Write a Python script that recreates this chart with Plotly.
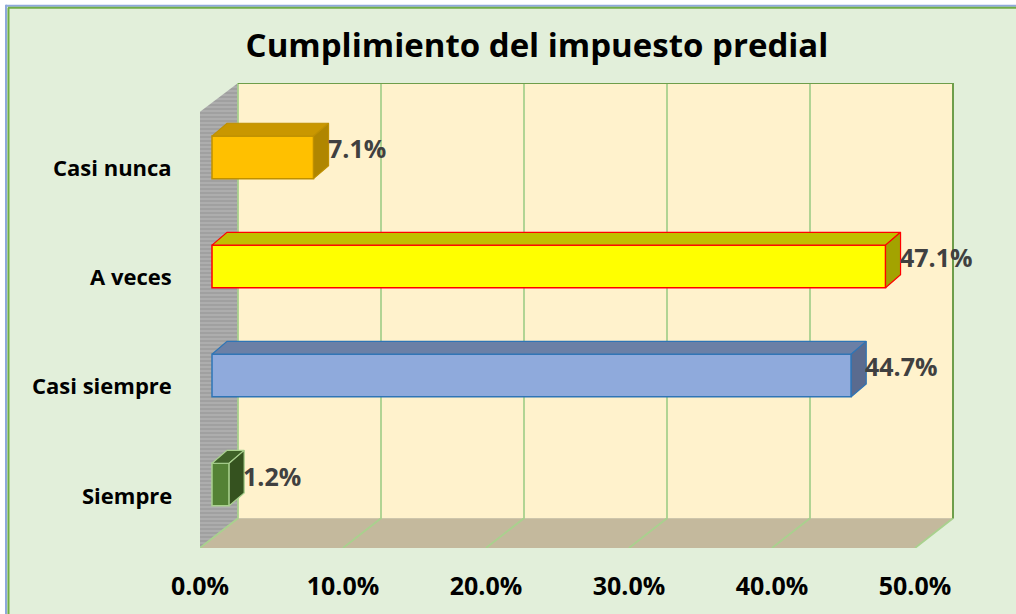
import plotly.graph_objects as go

# ---- data ----
categories = ["Siempre", "Casi siempre", "A veces", "Casi nunca"]
values = [1.2, 44.7, 47.1, 7.1]
tick_values = [0, 10, 20, 30, 40, 50]
tick_labels = ["0.0%", "10.0%", "20.0%", "30.0%", "40.0%", "50.0%"]

# ---- styles ----
front_colors = ["#548235", "#8FAADC", "#FFFF00", "#FFC000"]
edge_colors = ["#A9D18E", "#2E75B6", "#FF0000", "#BF9000"]
top_colors = ["#3F6228", "#6B80A6", "#C0C000", "#C99700"]
side_colors = ["#35521F", "#5A6B8F", "#A3A300", "#B08600"]

FONT = "Open Sans, sans-serif"
BAR_W = 0.39            # bar thickness (category units)
DX, DY = 1.05, 0.118    # bar depth offset (x in %, y in category units)

# plot-area geometry
L, R, T, B = 200, 61, 83, 62
W, H = 1016, 614
PW, PH = W - L - R, H - T - B
PX_PER_PCT = 14.3
BAR_SHIFT = 12 / PX_PER_PCT     # bar plane offset from front plane (in %)
BACK_SHIFT = 38 / PX_PER_PCT    # back plane offset from front plane (in %)
U_RANGE = [0, PW / PX_PER_PCT]  # front-plane axis
V_RANGE = [U_RANGE[0] - BAR_SHIFT, U_RANGE[1] - BAR_SHIFT]  # bar-plane axis
Y_MIN, Y_MAX = -0.582, 3.682
FLOOR_BACK_Y = -0.309
LEFT_TOP_FRONT_Y = 3.418


def px(x):
    return (x - L) / PW


def py(y):
    return (H - B - y) / PH


fig = go.Figure()

# ---------- background scene (base axes x / y, front-plane units) ----------
u_end = tick_values[-1] + BACK_SHIFT
# left wall (hatched gray)
fig.add_trace(go.Scatter(
    x=[0, BACK_SHIFT, BACK_SHIFT, 0, 0],
    y=[LEFT_TOP_FRONT_Y, Y_MAX, FLOOR_BACK_Y, Y_MIN, LEFT_TOP_FRONT_Y],
    fill="toself", mode="lines", line=dict(width=0),
    fillcolor="#A6A6A6",
    fillpattern=dict(shape="-", fgcolor="#8C8C8C", bgcolor="#ADADAD", size=4, solidity=0.4),
    hoverinfo="skip", showlegend=False))
# back wall
fig.add_trace(go.Scatter(
    x=[BACK_SHIFT, u_end, u_end, BACK_SHIFT, BACK_SHIFT],
    y=[FLOOR_BACK_Y, FLOOR_BACK_Y, Y_MAX, Y_MAX, FLOOR_BACK_Y],
    fill="toself", mode="lines", line=dict(width=0), fillcolor="#FFF2CC",
    hoverinfo="skip", showlegend=False))
# floor
fig.add_trace(go.Scatter(
    x=[tick_values[0], tick_values[-1], u_end, BACK_SHIFT, tick_values[0]],
    y=[Y_MIN, Y_MIN, FLOOR_BACK_Y, FLOOR_BACK_Y, Y_MIN],
    fill="toself", mode="lines", line=dict(width=0), fillcolor="#C4B99D",
    hoverinfo="skip", showlegend=False))
# gridlines on floor and back wall
for t in tick_values:
    fig.add_trace(go.Scatter(
        x=[t, t + BACK_SHIFT, t + BACK_SHIFT],
        y=[Y_MIN, FLOOR_BACK_Y, Y_MAX],
        mode="lines", line=dict(color="#A9D18E", width=1.8),
        hoverinfo="skip", showlegend=False))
# top and right edge of back wall
fig.add_trace(go.Scatter(
    x=[BACK_SHIFT, u_end, u_end],
    y=[Y_MAX, Y_MAX, FLOOR_BACK_Y],
    mode="lines", line=dict(color="#6E9E4A", width=2),
    hoverinfo="skip", showlegend=False))

# ---------- bars (overlay axis x2, bar-plane units) ----------
ys = list(range(len(categories)))
fig.add_trace(go.Bar(
    y=ys, x=values, orientation="h", width=BAR_W, xaxis="x2",
    marker=dict(color=front_colors, line=dict(color=edge_colors, width=1.5)),
    hoverinfo="skip", showlegend=False))

for i, v in enumerate(values):
    yt = i + BAR_W / 2
    yb = i - BAR_W / 2
    fig.add_trace(go.Scatter(
        x=[0, v, v + DX, DX, 0], y=[yt, yt, yt + DY, yt + DY, yt], xaxis="x2",
        fill="toself", mode="lines", fillcolor=top_colors[i],
        line=dict(color=edge_colors[i], width=1.2),
        hoverinfo="skip", showlegend=False))
    fig.add_trace(go.Scatter(
        x=[v, v + DX, v + DX, v, v], y=[yb, yb + DY, yt + DY, yt, yb], xaxis="x2",
        fill="toself", mode="lines", fillcolor=side_colors[i],
        line=dict(color=edge_colors[i], width=1.2),
        hoverinfo="skip", showlegend=False))

annotations = []
for i, (c, v) in enumerate(zip(categories, values)):
    annotations.append(dict(
        x=px(174), xref="paper", y=i, yref="y", text=c, showarrow=False,
        xanchor="right", yanchor="middle", yshift=-10,
        font=dict(family=FONT, size=22, color="#000000", weight="bold")))
    annotations.append(dict(
        x=v + DX, xref="x2", y=i, yref="y", text=f"{v:.1f}%", showarrow=False,
        xanchor="left", yanchor="middle", xshift=-3, yshift=9,
        font=dict(family=FONT, size=25, color="#404040", weight="bold")))

# chart frame
shapes = [
    dict(type="rect", xref="paper", yref="paper", x0=px(6), x1=px(1040),
         y0=py(640), y1=py(5), fillcolor="#E2EFDA", line=dict(width=0), layer="below"),
    dict(type="line", xref="paper", yref="paper", x0=px(6), x1=px(6),
         y0=py(640), y1=py(4), line=dict(color="#8EA9DB", width=2), layer="below"),
    dict(type="line", xref="paper", yref="paper", x0=px(8.5), x1=px(8.5),
         y0=py(640), y1=py(7), line=dict(color="#70AD47", width=2), layer="below"),
    dict(type="line", xref="paper", yref="paper", x0=px(6), x1=px(1040),
         y0=py(5), y1=py(5), line=dict(color="#8EA9DB", width=2), layer="below"),
    dict(type="line", xref="paper", yref="paper", x0=px(8), x1=px(1040),
         y0=py(7), y1=py(7), line=dict(color="#70AD47", width=2), layer="below"),
]

fig.update_layout(
    width=W, height=H,
    margin=dict(l=L, r=R, t=T, b=B),
    paper_bgcolor="#FFFFFF", plot_bgcolor="rgba(0,0,0,0)",
    title=dict(text="<b>Cumplimiento del impuesto predial</b>",
               x=537 / W, y=1 - 45 / H, xanchor="center", yanchor="middle",
               font=dict(family=FONT, size=33, color="#000000")),
    xaxis=dict(range=U_RANGE, showgrid=False, zeroline=False, showline=False,
               tickvals=tick_values, ticktext=tick_labels, ticks="",
               ticklabelstandoff=21,
               tickfont=dict(family=FONT, size=25, color="#000000", weight="bold")),
    xaxis2=dict(range=V_RANGE, overlaying="x", anchor="y", showgrid=False,
                zeroline=False, showticklabels=False, showline=False),
    yaxis=dict(range=[Y_MIN, Y_MAX], showgrid=False, zeroline=False,
               showticklabels=False, showline=False),
    annotations=annotations,
    shapes=shapes,
)

fig.write_html("out.html", config={"displayModeBar": False},
               post_script="document.body.style.margin='0';")
